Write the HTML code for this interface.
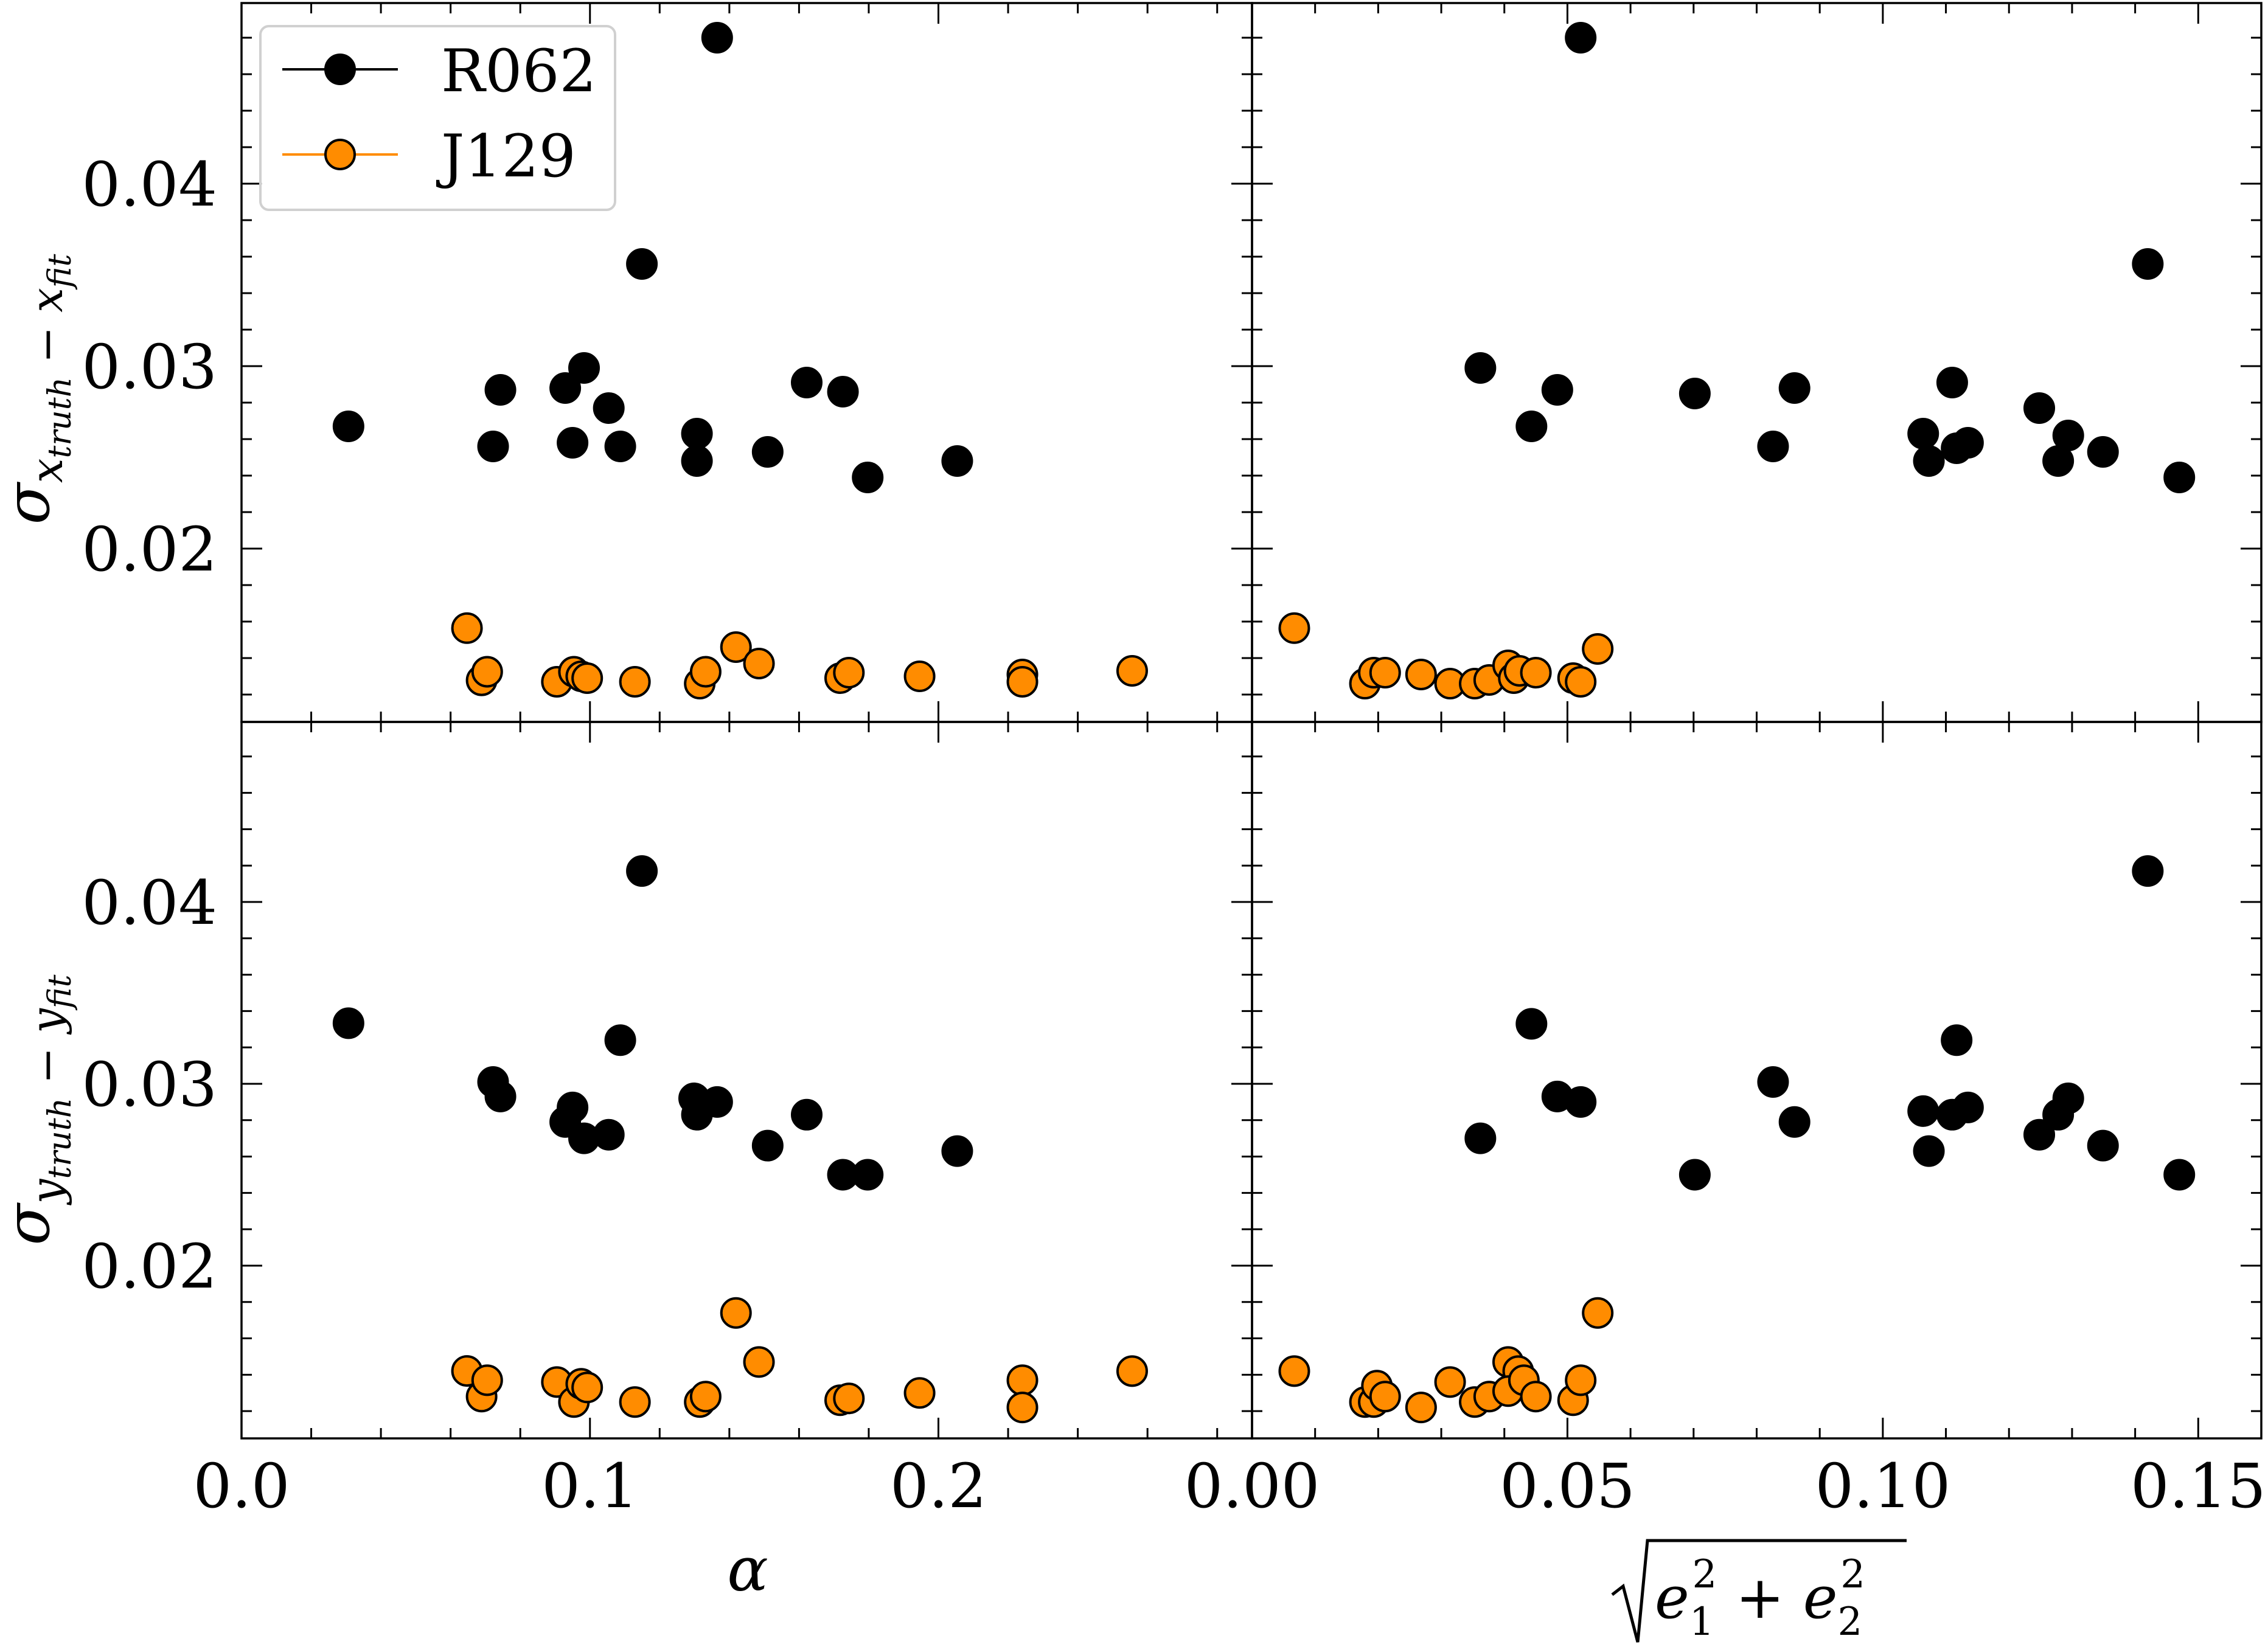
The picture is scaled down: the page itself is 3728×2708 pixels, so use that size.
<!DOCTYPE html>
<html><head><meta charset="utf-8">
<style>html,body{margin:0;padding:0;background:#fff}svg{display:block}</style>
</head><body>
<svg id="chart" width="3728" height="2708" viewBox="0 0 3728 2708" xmlns="http://www.w3.org/2000/svg" font-family="'DejaVu Serif','Liberation Serif',serif">
<g id="marks"></g>
<g id="axes"></g>
<g>
  <rect x="428" y="43" width="583" height="302" rx="14" fill="#fff" fill-opacity="0.8" stroke="#d0d0d0" stroke-width="4"/>
  <g>
    <line x1="464" y1="114" x2="654" y2="114" stroke="#000" stroke-width="4"/>
    <circle cx="559" cy="114" r="24" fill="#000" stroke="#000" stroke-width="4"/>
    <text x="725" y="150" font-size="96">R062</text>
  </g>
  <g>
    <line x1="464" y1="254" x2="654" y2="254" stroke="#ff8c00" stroke-width="4"/>
    <circle cx="559" cy="254" r="24" fill="#ff8c00" stroke="#000" stroke-width="4"/>
    <text x="725" y="290" font-size="96">J129</text>
  </g>
</g>
<g><text x="1229" y="2615" font-size="100" font-style="italic" text-anchor="middle">α</text></g>
<g>
  <polyline points="2650,2622 2668,2608 2692,2700 2708,2533 3134,2533" fill="none" stroke="#000" stroke-width="5"/>
  <text x="2720" y="2660" font-size="96" font-style="italic">e<tspan font-size="64" dy="28" font-style="normal">1</tspan><tspan font-size="64" dx="-36" dy="-78" font-style="normal">2</tspan><tspan font-size="96" dy="50" font-style="normal"> + </tspan><tspan>e</tspan><tspan font-size="64" dy="28" font-style="normal">2</tspan><tspan font-size="64" dx="-36" dy="-78" font-style="normal">2</tspan></text>
</g>
<g transform="translate(80,640) rotate(-90)">
  <text x="0" y="0" font-size="100" font-style="italic" text-anchor="middle">σ<tspan font-size="72" dy="22">x</tspan><tspan font-size="52" dy="14">truth</tspan><tspan font-size="72" dy="-14" font-style="normal"> − </tspan><tspan font-size="72">x</tspan><tspan font-size="52" dy="14">fit</tspan></text>
</g>
<g transform="translate(80,1825) rotate(-90)">
  <text x="0" y="0" font-size="100" font-style="italic" text-anchor="middle">σ<tspan font-size="72" dy="22">y</tspan><tspan font-size="52" dy="14">truth</tspan><tspan font-size="72" dy="-14" font-style="normal"> − </tspan><tspan font-size="72">y</tspan><tspan font-size="52" dy="14">fit</tspan></text>
</g>
</svg>
<script>
// ---- data ----
const alphaR062Top = [0.0307,0.0722,0.0743,0.0929,0.0950,0.0983,0.1054,0.1087,0.1149,0.1307,0.1307,0.1365,0.1510,0.1622,0.1726,0.1797,0.2054];
const sigmaXR062Left = [0.0267,0.0256,0.0287,0.0288,0.0258,0.0299,0.0277,0.0256,0.0356,0.0263,0.0248,0.0480,0.0253,0.0291,0.0286,0.0239,0.0248];
const eR062Top = [0.0362,0.0443,0.0484,0.0521,0.0702,0.0826,0.0860,0.1064,0.1073,0.1110,0.1117,0.1135,0.1248,0.1278,0.1294,0.1349,0.1420,0.1470];
const sigmaXR062Right = [0.0299,0.0267,0.0287,0.0480,0.0285,0.0256,0.0288,0.0263,0.0248,0.0291,0.0255,0.0258,0.0277,0.0248,0.0262,0.0253,0.0356,0.0239];
const alphaJ129Top = [0.0647,0.0689,0.0705,0.0905,0.0954,0.0975,0.0992,0.1129,0.1315,0.1332,0.1419,0.1485,0.1718,0.1743,0.1946,0.2241,0.2241,0.2556];
const sigmaXJ129Left = [0.01564,0.01278,0.01325,0.0127,0.01325,0.0130,0.0129,0.0127,0.0126,0.01325,0.0146,0.0137,0.0129,0.0132,0.0130,0.0131,0.0127,0.0133];
const eJ129Top = [0.0067,0.0179,0.0193,0.0211,0.0268,0.0314,0.0353,0.0376,0.0406,0.0415,0.0424,0.0450,0.0509,0.0521,0.0548];
const sigmaXJ129Right = [0.01564,0.0126,0.0132,0.0132,0.0131,0.0126,0.0126,0.0128,0.0136,0.0129,0.0133,0.0132,0.0129,0.0127,0.0145];
const alphaR062Bot = [0.0307,0.0722,0.0743,0.0929,0.0950,0.0983,0.1054,0.1087,0.1149,0.1299,0.1307,0.1365,0.1510,0.1622,0.1726,0.1797,0.2054];
const sigmaYR062Left = [0.03333,0.0301,0.0293,0.0279,0.0287,0.0270,0.0272,0.0324,0.0417,0.0292,0.0283,0.0290,0.0266,0.0283,0.0250,0.0250,0.0263];
const eR062Bot = [0.0362,0.0443,0.0484,0.0521,0.0702,0.0826,0.0860,0.1064,0.1073,0.1110,0.1117,0.1135,0.1248,0.1278,0.1294,0.1349,0.1420,0.1470];
const sigmaYR062Right = [0.0270,0.0333,0.0293,0.0290,0.0250,0.0301,0.0279,0.0285,0.0263,0.0283,0.0324,0.0287,0.0272,0.0283,0.0292,0.0266,0.0417,0.0250];
const alphaJ129Bot = [0.0647,0.0689,0.0705,0.0905,0.0954,0.0975,0.0992,0.1129,0.1315,0.1332,0.1419,0.1485,0.1718,0.1743,0.1946,0.2241,0.2241,0.2556];
const sigmaYJ129Left = [0.01421,0.0128,0.0137,0.0136,0.0125,0.0135,0.0133,0.0125,0.0125,0.0128,0.0174,0.0147,0.0126,0.0127,0.0130,0.0137,0.0122,0.0142];
const eJ129Bot = [0.0067,0.0179,0.0193,0.0198,0.0211,0.0268,0.0314,0.0353,0.0376,0.0406,0.0422,0.0406,0.0431,0.0450,0.0509,0.0521,0.0548];
const sigmaYJ129Right = [0.0142,0.0125,0.0125,0.0134,0.0128,0.0122,0.0136,0.0125,0.0128,0.0147,0.0142,0.0131,0.0137,0.0128,0.0126,0.0137,0.0174];
const alphaTickLabels = ["0.0","0.1","0.2"];
const alphaTickValues = [0,0.1,0.2];
const eTickLabels = ["0.00","0.05","0.10","0.15"];
const eTickValues = [0,0.05,0.10,0.15];
const yTickLabels = ["0.02","0.03","0.04"];
const yTickValues = [0.02,0.03,0.04];

// ---- layout ----
const NS="http://www.w3.org/2000/svg";
const L=397, M=2058, R=3717, T=5, MY=1187, B=2365;
const YMIN=0.0105, YMAX=0.0499;
const AX=[0,0.29], EX=[0,0.16];
const sxA=v=>L+(v-AX[0])/(AX[1]-AX[0])*(M-L);
const sxE=v=>M+(v-EX[0])/(EX[1]-EX[0])*(R-M);
const syTop=v=>MY-(v-YMIN)/(YMAX-YMIN)*(MY-T);
const syBot=v=>B-(v-YMIN)/(YMAX-YMIN)*(B-MY);
const marks=document.getElementById('marks'), axes=document.getElementById('axes');
function mk(tag,attrs,parent){const e=document.createElementNS(NS,tag);for(const k in attrs)e.setAttribute(k,attrs[k]);parent.appendChild(e);return e;}

function series(xs,ys,fx,fy,fill,name){
  const g=mk('g',{},marks);
  
  
  xs.forEach((x,i)=>{
    const c=mk('circle',{cx:fx(x),cy:fy(ys[i]),r:24,fill:fill,stroke:'#000','stroke-width':4},g);
    
    
  });
}
series(alphaR062Top,sigmaXR062Left,sxA,syTop,'#000','r062-top-left');
series(alphaJ129Top,sigmaXJ129Left,sxA,syTop,'#ff8c00','j129-top-left');
series(eR062Top,sigmaXR062Right,sxE,syTop,'#000','r062-top-right');
series(eJ129Top,sigmaXJ129Right,sxE,syTop,'#ff8c00','j129-top-right');
series(alphaR062Bot,sigmaYR062Left,sxA,syBot,'#000','r062-bottom-left');
series(alphaJ129Bot,sigmaYJ129Left,sxA,syBot,'#ff8c00','j129-bottom-left');
series(eR062Bot,sigmaYR062Right,sxE,syBot,'#000','r062-bottom-right');
series(eJ129Bot,sigmaYJ129Right,sxE,syBot,'#ff8c00','j129-bottom-right');

// ---- axes ----
const ln=(x1,y1,x2,y2,w)=>mk('line',{x1,y1,x2,y2,stroke:'#000','stroke-width':w||3},axes);
function panel(x0,x1,y0,y1,fx,xmaj,xmin,fy){
  const f=mk('rect',{x:x0,y:y0,width:x1-x0,height:y1-y0,fill:'none',stroke:'#000','stroke-width':3.5},axes);
  
  
  for(let v=xmin[0]; v<=xmin[1]+1e-9; v+=xmin[2]){
    const x=fx(v); if(x<x0-1||x>x1+1) continue;
    const isMaj=xmaj.some(m=>Math.abs(m-v)<1e-9); const len=isMaj?34:17;
    ln(x,y1,x,y1-len,3); ln(x,y0,x,y0+len,3);
  }
  for(let k=6;k<=49;k+=2){
    const v=k/1000; const y=fy(v); if(y<y0-1||y>y1+1) continue;
    const len=(k%10===0)?34:17;
    ln(x0,y,x0+len,y,3); ln(x1,y,x1-len,y,3);
  }
}
panel(L,M,T,MY,sxA,alphaTickValues,[0,0.29,0.02],syTop);
panel(M,R,T,MY,sxE,eTickValues,[0,0.16,0.01],syTop);
panel(L,M,MY,B,sxA,alphaTickValues,[0,0.29,0.02],syBot);
panel(M,R,MY,B,sxE,eTickValues,[0,0.16,0.01],syBot);

function label(x,y,txt,anchor,name){
  const t=mk('text',{x,y,'font-size':100,'text-anchor':anchor},axes);
  t.textContent=txt;
  
  
}
alphaTickValues.forEach((v,i)=>label(sxA(v),2478,alphaTickLabels[i],'middle','x-tick-label-alpha'));
eTickValues.forEach((v,i)=>label(sxE(v),2478,eTickLabels[i],'middle','x-tick-label-e'));
yTickValues.forEach((v,i)=>{
  label(357,syTop(v)+36,yTickLabels[i],'end','y-tick-label-top');
  label(357,syBot(v)+36,yTickLabels[i],'end','y-tick-label-bottom');
});
</script>
</body></html>
